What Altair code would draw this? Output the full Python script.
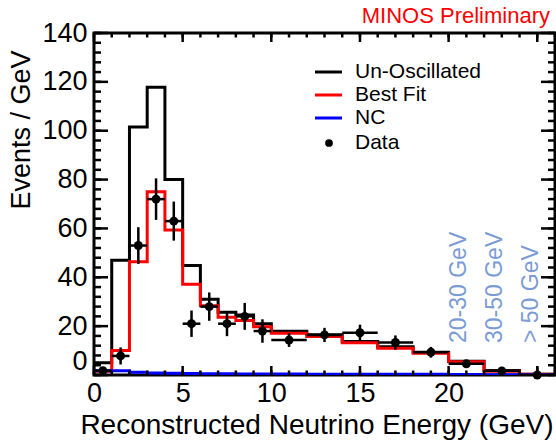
import altair as alt
import pandas as pd

# ---------------- data ----------------
edges = [0, 1, 2, 3, 4, 5, 6, 7, 8, 9, 10, 12, 14, 16, 18, 20, 22, 24, 26]
unoscillated = [5.0, 47.0, 101.5, 117.8, 80.0, 44.8, 31.0, 25.7, 24.6, 21.0,
                17.9, 16.5, 13.7, 11.6, 9.3, 5.6, 1.8, 0.3]
best_fit = [1.5, 10.0, 46.4, 75.0, 59.4, 37.2, 28.3, 23.6, 22.3, 19.8,
            17.1, 15.8, 13.2, 10.9, 8.9, 5.4, 1.5, 0.3]
nc = [1.7, 1.7, 1.1, 0.8, 0.7, 0.6, 0.5, 0.5, 0.4, 0.4,
      0.4, 0.3, 0.3, 0.3, 0.3, 0.2, 0.1, 0.1]
data_val = [1.8, 7.8, 53.0, 72.0, 63.0, 21.0, 28.0, 21.0, 24.0, 18.0,
            14.3, 16.4, 17.3, 13.3, 9.3, 4.6, 1.7, 0.0]
data_err = [1.3, 3.5, 7.5, 8.5, 8.0, 5.4, 5.8, 5.1, 5.5, 4.8,
            2.8, 2.9, 3.3, 2.9, 2.2, 1.5, 0.9, 3.4]

x_label_values = [0, 5, 10, 15, 20]
x_major = [0, 5, 10, 15, 20, 25]
x_minor = list(range(0, 27))
y_major = [0, 20, 40, 60, 80, 100, 120, 140]
y_minor = list(range(0, 141, 4))

range_labels = ["20-30 GeV", "30-50 GeV", "> 50 GeV"]
range_label_x = [20.6, 22.6, 24.65]
range_label_y = [13.1, 13.1, 13.1]

legend_names = ["Un-Oscillated", "Best Fit", "NC", "Data"]
legend_colors = ["black", "red", "blue", "black"]

# ---------------- layout ----------------
W, H = 461, 342
FONT = "Liberation Sans"
xs = alt.Scale(domain=[0, 26], nice=False, zero=False)
ys = alt.Scale(domain=[0, 140], nice=False, zero=False)

XAX = alt.Axis(values=x_label_values, format="d", labelFontSize=27,
               labelFont=FONT, labelColor="black", labelPadding=5,
               labelFlush=False, ticks=False, domain=False, grid=False,
               title="Reconstructed Neutrino Energy (GeV)",
               titleFontSize=28, titleFont=FONT, titleFontWeight="normal",
               titleColor="black", titleX=459, titleY=50,
               titleAlign="right", titleBaseline="middle", titleAngle=0)
YAX = alt.Axis(values=y_major, format="d", labelFontSize=27,
               labelFont=FONT, labelColor="black", labelPadding=7,
               labelFlush=False, ticks=False, domain=False, grid=False,
               labelBaseline={"condition": {"test": "datum.value == 0",
                                            "value": "bottom"},
                              "value": "middle"},
               title="Events / GeV", titleFontSize=27, titleFont=FONT,
               titleFontWeight="normal", titleColor="black",
               titleX=-73, titleY=17, titleAngle=270,
               titleAlign="right", titleBaseline="middle")


def X(field):
    return alt.X(field, scale=xs, axis=XAX)


def Y(field):
    return alt.Y(field, scale=ys, axis=YAX)


def hist_layer(vals, color):
    df = pd.DataFrame({"x": edges, "y": vals + [vals[-1]]})
    return alt.Chart(df).mark_line(
        interpolate="step-after", color=color, strokeWidth=3, clip=True
    ).encode(x=X("x:Q"), y=Y("y:Q"))


black = hist_layer(unoscillated, "black")
red = hist_layer(best_fit, "red")
blue = hist_layer(nc, "blue")

n = len(data_val)
pts = pd.DataFrame({
    "xc": [(edges[i] + edges[i + 1]) / 2 for i in range(n)],
    "xlo": [edges[i] for i in range(n)],
    "xhi": [edges[i + 1] for i in range(n)],
    "y": data_val,
    "ylo": [data_val[i] - data_err[i] for i in range(n)],
    "yhi": [data_val[i] + data_err[i] for i in range(n)],
})
pts_base = alt.Chart(pts)
xbar = pts_base.mark_rule(color="black", strokeWidth=2.5, clip=True).encode(
    x=X("xlo:Q"), x2="xhi:Q", y=Y("y:Q"))
ybar = pts_base.mark_rule(color="black", strokeWidth=2.5, clip=True).encode(
    x=X("xc:Q"), y=Y("ylo:Q"), y2="yhi:Q")
dots = pts_base.mark_circle(color="black", size=80, opacity=1).encode(
    x=X("xc:Q"), y=Y("y:Q"))

# range labels
rl = pd.DataFrame({"x": range_label_x, "y": range_label_y, "label": range_labels})
range_text = alt.Chart(rl).mark_text(
    angle=270, align="left", baseline="middle", fontSize=23, font=FONT,
    color="#7b9bd5"
).encode(x=X("x:Q"), y=Y("y:Q"), text="label:N")


# ticks (inside, ROOT style)
def xticks(vals, length):
    d = alt.Chart(pd.DataFrame({"t": vals}))
    b = d.mark_rule(color="black", strokeWidth=2.5).encode(
        x=X("t:Q"), y=alt.value(H), y2=alt.value(H - length))
    t = d.mark_rule(color="black", strokeWidth=2.5).encode(
        x=X("t:Q"), y=alt.value(0), y2=alt.value(length))
    return [b, t]


def yticks(vals, length):
    d = alt.Chart(pd.DataFrame({"t": vals}))
    l = d.mark_rule(color="black", strokeWidth=2.5).encode(
        y=Y("t:Q"), x=alt.value(0), x2=alt.value(length))
    r = d.mark_rule(color="black", strokeWidth=2.5).encode(
        y=Y("t:Q"), x=alt.value(W), x2=alt.value(W - length))
    return [l, r]


ticks = xticks(x_major, 9) + xticks(x_minor, 4.5) + yticks(y_major, 14) + yticks(y_minor, 7)

# legend (manual, ROOT TLegend style)
one = alt.Chart(pd.DataFrame({"a": [0]}))
legend_y = [39, 62, 85, 110]
legend_layers = []
for i, (name, col) in enumerate(zip(legend_names, legend_colors)):
    if name == "Data":
        legend_layers.append(one.mark_circle(color=col, size=60, opacity=1).encode(
            x=alt.value(235), y=alt.value(legend_y[i])))
    else:
        legend_layers.append(one.mark_rule(color=col, strokeWidth=3).encode(
            x=alt.value(221), x2=alt.value(248), y=alt.value(legend_y[i])))
    legend_layers.append(one.mark_text(
        align="left", baseline="middle", fontSize=21, font=FONT, color="black"
    ).encode(x=alt.value(261), y=alt.value(legend_y[i]), text=alt.value(name)))

title = one.mark_text(align="right", baseline="middle", fontSize=22, font=FONT,
                      color="red").encode(
    x=alt.value(456), y=alt.value(-17), text=alt.value("MINOS Preliminary"))

chart = alt.layer(
    black, red, blue, xbar, ybar, dots, range_text, *ticks, *legend_layers, title
).properties(
    width=W, height=H,
    padding={"left": 94, "top": 33, "right": 1, "bottom": 69},
    autosize=alt.AutoSizeParams(type="none"),
    background="white",
).configure_view(stroke="black", strokeWidth=3)

chart.save("out.html", embed_options={"renderer": "svg", "actions": False})
